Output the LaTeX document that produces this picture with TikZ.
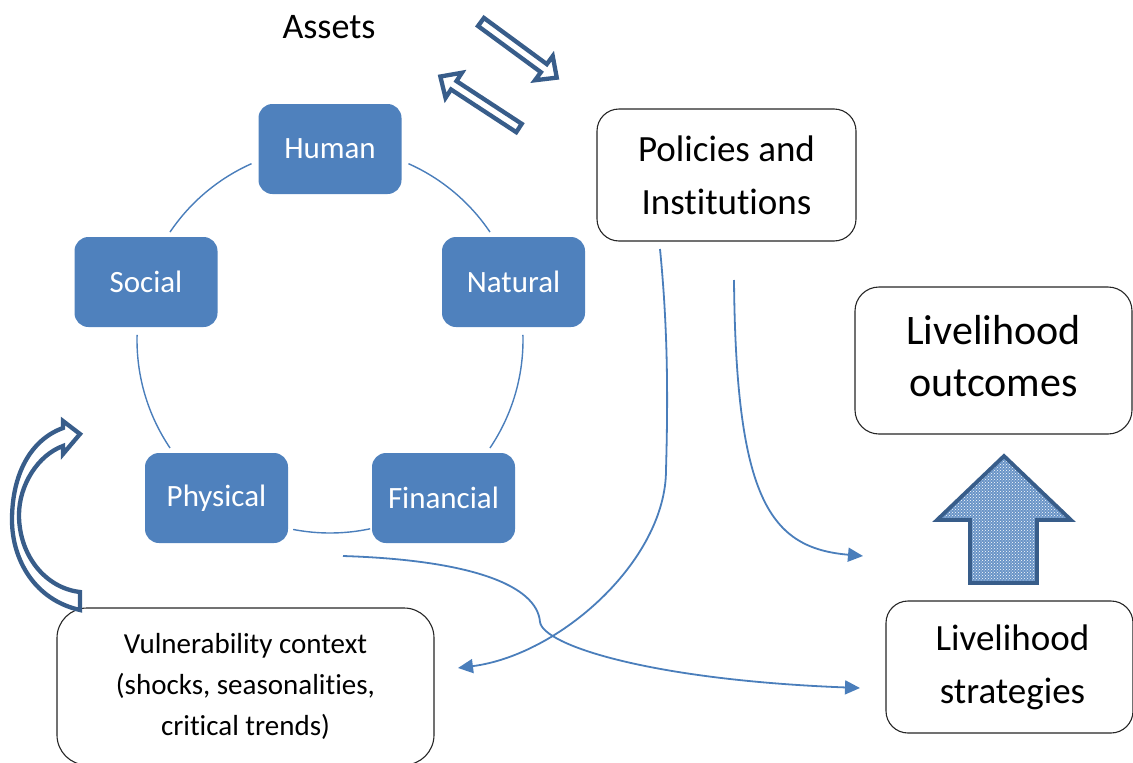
\documentclass[tikz,border=0pt]{standalone}
\usepackage{fontspec}
\setmainfont{Carlito}[Ligatures=NoCommon]
\usepackage{xcolor}
\usetikzlibrary{arrows.meta,patterns}
\definecolor{assetblue}{HTML}{4F81BD}
\definecolor{linkblue}{HTML}{4A7EBB}
\definecolor{rimblue}{HTML}{385D8A}

\begin{document}
\begin{tikzpicture}[x=1pt, y=-1pt,
		asset/.style={rectangle, rounded corners=14pt, fill=assetblue, text=white, minimum width=143pt, minimum height=90pt, inner sep=0pt, font=\fontsize{31}{37}\selectfont},
		panel/.style={rectangle, draw=black!85, line width=1.1pt, fill=white, align=center, inner sep=0pt},
		ring/.style={linkblue, line width=1.4pt},
		link/.style={linkblue, line width=1.8pt, -{Triangle[length=15pt,width=14pt]}},
		hollow/.style={draw=rimblue, line width=4.3pt, fill=white, line join=miter}]
	\useasboundingbox (0,0) rectangle (1133,763);
	\node[font=\fontsize{36}{43}\selectfont] (assets) at (329,27) {Assets};
	\node[asset] (human) at (330,149) {Human};
	\node[asset] (social) at (146,282) {Social};
	\node[asset] (natural) at (513.5,282) {Natural};
	\node[asset] (physical) at (216.5,498) {Physical};
	\node[asset] (financial) at (443.5,498) {Financial};
	\node[panel, rounded corners=22pt, minimum width=259pt, minimum height=132pt, font=\fontsize{37}{53}\selectfont] (policies) at (726.5,175) {Policies and\\Institutions};
	\node[panel, rounded corners=24pt, minimum width=277pt, minimum height=147pt, font=\fontsize{42}{52}\selectfont, text depth=10pt] (outcomes) at (993.5,360.5) {Livelihood\\outcomes};
	\node[panel, rounded corners=22pt, minimum width=247pt, minimum height=132pt, font=\fontsize{37}{53}\selectfont] (strategies) at (1009.5,667) {\hspace*{6pt}Livelihood\\\hspace*{6pt}strategies};
	\node[panel, rounded corners=30pt, minimum width=377pt, minimum height=157pt, font=\fontsize{29}{41}\selectfont] (vuln) at (245.5,686.5) {Vulnerability context\\(shocks, seasonalities,\\critical trends)};

	\coordinate (hub) at (330,340);
	\draw[ring] ([shift={(-66:193)}]hub) arc[start angle=-66, end angle=-34, radius=193];
	\draw[ring] ([shift={(-114:193)}]hub) arc[start angle=-114, end angle=-146, radius=193];
	\draw[ring] ([shift={(181.5:193)}]hub) arc[start angle=181.5, end angle=146, radius=193];
	\draw[ring] ([shift={(-1.5:193)}]hub) arc[start angle=-1.5, end angle=34, radius=193];
	\draw[ring] ([shift={(101:193)}]hub) arc[start angle=101, end angle=78, radius=193];

	\coordinate (policyfoot) at (660,249);
	\coordinate (policyfoot2) at (734,280);
	\coordinate (assetfoot) at (343,556);
	\coordinate (vulnin) at (458,668);
	\coordinate (stratin) at (863,556);
	\coordinate (stratin2) at (860,688);
	\draw[link] (policyfoot) .. controls (668,330) and (668,400) .. (666,470) .. controls (666,560) and (560,655) .. (vulnin);
	\draw[link] (policyfoot2) .. controls (736,500) and (770,548) .. (stratin);
	\draw[link] (assetfoot) .. controls (470,560) and (537,585) .. (540,622) .. controls (543,645) and (650,680) .. (stratin2);

	\begin{scope}[shift={(481,22)}, rotate=-36.3]
		\draw[hollow] (0,-5) -- (78,-5) -- (78,-15) -- (94,0) -- (78,15) -- (78,5) -- (0,5) -- cycle;
	\end{scope}
	\begin{scope}[shift={(519,128)}, rotate=146.8]
		\draw[hollow] (0,-5) -- (78,-5) -- (78,-15) -- (94,0) -- (78,15) -- (78,5) -- (0,5) -- cycle;
	\end{scope}

	\draw[hollow] (80,610) .. controls (35,600) and (12,560) .. (12,520) .. controls (12,475) and (30,440) .. (63,428) -- (63,421) -- (80,434) -- (63,454) -- (63,446) .. controls (38,455) and (19,485) .. (19,515) .. controls (19,555) and (45,588) .. (80,592) -- cycle;

	\draw[draw=rimblue, line width=3.8pt, line join=miter, preaction={fill=assetblue!85}, pattern=crosshatch dots, pattern color=white] (1004,456) -- (1071,520) -- (1037,520) -- (1037,583) -- (970,583) -- (970,520) -- (937,520) -- cycle;
\end{tikzpicture}
\end{document}
